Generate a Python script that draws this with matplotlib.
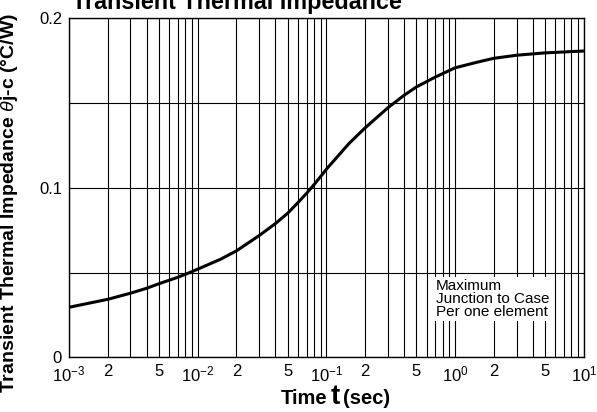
import numpy as np
import matplotlib.pyplot as plt
from matplotlib.ticker import LogLocator, FixedLocator, FuncFormatter, NullFormatter

plt.rcParams['font.family'] = ['Liberation Sans', 'DejaVu Sans']
plt.rcParams['mathtext.fontset'] = 'custom'
plt.rcParams['mathtext.rm'] = 'Liberation Sans'
plt.rcParams['mathtext.it'] = 'Liberation Sans:italic'

# time (sec) and transient thermal impedance (C/W)
t = [1e-3, 2e-3, 3e-3, 4e-3, 5e-3, 7e-3, 9e-3, 1e-2, 1.5e-2, 2e-2, 3e-2,
     4e-2, 5e-2, 6e-2, 7e-2, 8e-2, 9e-2, 1e-1, 1.5e-1, 2e-1, 3e-1, 4e-1,
     5e-1, 7e-1, 1.0, 1.5, 2.0, 3.0, 5.0, 10.0]
zth = [0.0295, 0.0342, 0.0378, 0.0407, 0.0434, 0.0472, 0.0505, 0.0520,
       0.0578, 0.0628, 0.0718, 0.0788, 0.0850, 0.0912, 0.0967, 0.1018,
       0.1066, 0.1110, 0.1262, 0.1354, 0.1472, 0.1545, 0.1595, 0.1653,
       0.1708, 0.1742, 0.1764, 0.1782, 0.1796, 0.1807]

x_labels = {1e-3: '$10^{-3}$', 1e-2: '$10^{-2}$', 1e-1: '$10^{-1}$',
            1e0: '$10^{0}$', 1e1: '$10^{1}$'}
y_ticks = [0, 0.1, 0.2]
y_labels = ['0', '0.1', '0.2']

fig = plt.figure(figsize=(5.97, 4.12), dpi=100)
ax = fig.add_axes([0.1156, 0.1328, 0.8624, 0.8228])

ax.plot(t, zth, color='black', lw=2.2, zorder=3)

ax.set_xscale('log')
ax.set_xlim(1e-3, 10)
ax.set_ylim(0, 0.2)

ax.xaxis.set_major_locator(FixedLocator(list(x_labels.keys())))
ax.set_xticklabels(list(x_labels.values()))
ax.xaxis.set_minor_locator(LogLocator(base=10, subs=np.arange(2, 10)))

def minor_fmt(v, pos):
    m = round(v / 10 ** np.floor(np.log10(v) + 1e-9))
    return str(m) if m in (2, 5) else ''

ax.xaxis.set_minor_formatter(FuncFormatter(minor_fmt))
ax.set_yticks(y_ticks)
ax.set_yticklabels(y_labels)
ax.yaxis.set_minor_locator(FixedLocator([0.05, 0.15]))
ax.yaxis.set_minor_formatter(NullFormatter())

ax.tick_params(which='both', length=0, labelsize=12, pad=5)
ax.grid(which='both', color='black', lw=0.8)
for s in ax.spines.values():
    s.set_linewidth(1.0)

ax.text(0.712, 0.113, 'Maximum\nJunction to Case\nPer one element',
        transform=ax.transAxes, fontsize=11, linespacing=0.9, va='bottom',
        bbox=dict(facecolor='white', edgecolor='none', pad=1.5), zorder=4)

ax.set_ylabel('Transient Thermal Impedance $\\theta$j-c (°C/W)',
              fontsize=14, fontweight='bold', labelpad=0)
ax.yaxis.set_label_coords(-0.096, 0.455)

fig.text(0.12, 0.978, 'Transient Thermal Impedance', fontsize=16.8,
         fontweight='bold', va='baseline')

fig.text(0.549, 0.02, 'Time', fontsize=14.5, fontweight='bold',
         ha='right', va='baseline')
fig.text(0.5615, 0.02, 't', fontsize=20, fontweight='bold',
         ha='center', va='baseline')
fig.text(0.574, 0.02, '(sec)', fontsize=14.5, fontweight='bold',
         ha='left', va='baseline')

fig.savefig('out.png', dpi=100)
